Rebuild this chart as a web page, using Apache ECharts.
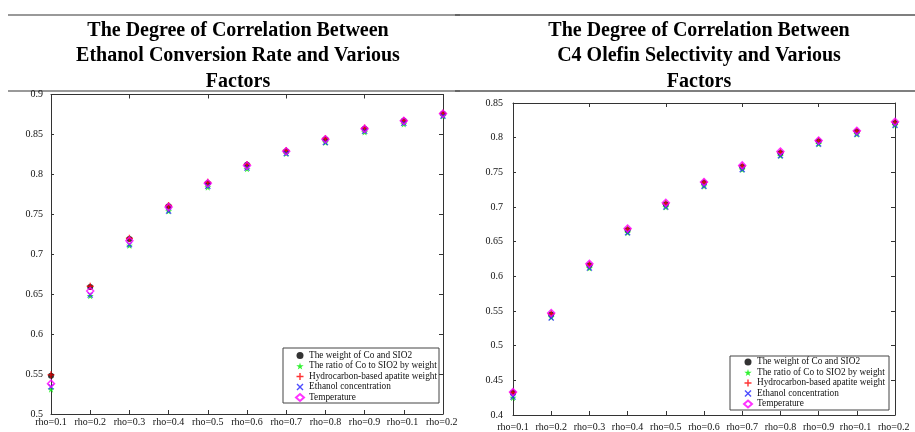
<!DOCTYPE html>
<html>
<head>
<meta charset="utf-8">
<script src="https://cdn.jsdelivr.net/npm/echarts@6/dist/echarts.min.js"></script>
<style>
html,body{margin:0;padding:0;background:#fff;}
#c{width:915px;height:432px;}
</style>
</head>
<body>
<div id="c"></div>
<script>
// ---- data ----
const categories = ['rho=0.1','rho=0.2','rho=0.3','rho=0.4','rho=0.5','rho=0.6','rho=0.7','rho=0.8','rho=0.9','rho=0.1 ','rho=0.2 '];
const seriesNames = ['The weight of Co and SIO2','The ratio of Co to SIO2 by weight','Hydrocarbon-based apatite weight','Ethanol concentration','Temperature'];

const titleLeft = 'The Degree of Correlation Between\nEthanol Conversion Rate and Various\nFactors';
const titleRight = 'The Degree of Correlation Between\nC4 Olefin Selectivity and Various\nFactors';

// left chart: ethanol conversion rate
const ethWeightCoSiO2 = [0.548,0.659,0.719,0.760,0.789,0.812,0.829,0.844,0.857,0.867,0.876];
const ethRatioCoSiO2  = [0.531,0.648,0.711,0.754,0.784,0.807,0.826,0.840,0.853,0.863,0.873];
const ethHydrocarbon  = [0.549,0.660,0.720,0.761,0.790,0.8125,0.830,0.845,0.858,0.8675,0.8766];
const ethEthanolConc  = [0.534,0.649,0.712,0.754,0.785,0.808,0.826,0.840,0.854,0.864,0.873];
const ethTemperature  = [0.538,0.654,0.717,0.759,0.789,0.811,0.829,0.844,0.857,0.867,0.876];

// right chart: C4 olefin selectivity
const c4WeightCoSiO2 = [0.432,0.545,0.616,0.667,0.704,0.735,0.758,0.778,0.795,0.809,0.821];
const c4RatioCoSiO2  = [0.425,0.541,0.612,0.663,0.700,0.730,0.754,0.774,0.791,0.805,0.818];
const c4Hydrocarbon  = [0.4325,0.546,0.617,0.668,0.705,0.7357,0.759,0.779,0.7954,0.8093,0.822];
const c4EthanolConc  = [0.426,0.540,0.612,0.663,0.700,0.730,0.754,0.774,0.791,0.805,0.818];
const c4Temperature  = [0.433,0.547,0.618,0.669,0.706,0.736,0.760,0.780,0.796,0.810,0.823];

const leftY = {min:0.5, max:0.9, interval:0.05};
const rightY = {min:0.4, max:0.85, interval:0.05};

// ---- styling ----
const FONT = 'Liberation Serif';
const AX = '#333';
const starPath = 'path://M50,0L61,35L98,35L68,57L79,91L50,70L21,91L32,57L2,35L39,35Z';
const plusPath = 'path://M40,0H60V40H100V60H60V100H40V60H0V40H40Z';
const xPath = 'path://M14,0L50,36L86,0L100,14L64,50L100,86L86,100L50,64L14,100L0,86L36,50L0,14Z';

const markers = [
  {symbol:'circle', size:6, itemStyle:{color:'#000'}},
  {symbol:starPath, size:7, itemStyle:{color:'#00ee00'}},
  {symbol:plusPath, size:7, itemStyle:{color:'#ff0000'}},
  {symbol:xPath, size:6, itemStyle:{color:'#2020ff'}},
  {symbol:'diamond', size:7, itemStyle:{color:'rgba(0,0,0,0)', borderColor:'#ff00ff', borderWidth:1.5}}
];

const leftData = [ethWeightCoSiO2, ethRatioCoSiO2, ethHydrocarbon, ethEthanolConc, ethTemperature];
const rightData = [c4WeightCoSiO2, c4RatioCoSiO2, c4Hydrocarbon, c4EthanolConc, c4Temperature];

function mkSeries(dataSets, axisIdx){
  return dataSets.map((d,i)=>({
    type:'scatter',
    name: seriesNames[i],
    xAxisIndex: axisIdx, yAxisIndex: axisIdx,
    symbol: markers[i].symbol,
    symbolSize: markers[i].size,
    itemStyle: markers[i].itemStyle,
    data: d,
    z: 2+i,
    emphasis:{disabled:true}
  }));
}

function xAxes(gridIndex, labelMargin){
  return [
    {type:'category', gridIndex, data:categories, boundaryGap:false, position:'bottom',
     axisLine:{lineStyle:{color:AX, width:1}},
     axisTick:{inside:true, length:4, lineStyle:{color:AX}},
     axisLabel:{color:'#111', fontFamily:FONT, fontSize:10, margin:labelMargin, interval:0},
     splitLine:{show:false}},
    {type:'category', gridIndex, data:categories, boundaryGap:false, position:'top',
     axisLine:{lineStyle:{color:AX, width:1}},
     axisTick:{inside:true, length:4, lineStyle:{color:AX}},
     axisLabel:{show:false}, splitLine:{show:false}}
  ];
}
function yAxes(gridIndex, rng, labelMargin){
  return [
    {type:'value', gridIndex, min:rng.min, max:rng.max, interval:rng.interval, position:'left',
     axisLine:{show:true, lineStyle:{color:AX, width:1}},
     axisTick:{show:true, inside:true, length:3, lineStyle:{color:AX}},
     axisLabel:{color:'#111', fontFamily:FONT, fontSize:10, margin:labelMargin},
     splitLine:{show:false}},
    {type:'value', gridIndex, min:rng.min, max:rng.max, interval:rng.interval, position:'right',
     axisLine:{show:true, lineStyle:{color:AX, width:1}},
     axisTick:{show:true, inside:true, length:4, lineStyle:{color:AX}},
     axisLabel:{show:false}, splitLine:{show:false}}
  ];
}

const chart = echarts.init(document.getElementById('c'), null, {renderer:'canvas'});

const legendCommon = {
  orient:'vertical',
  data: seriesNames,
  itemWidth:8, itemHeight:7, itemGap:1.5,
  padding:0,
  z:30,
  textStyle:{fontFamily:FONT, fontSize:9.3, color:'#111', lineHeight:9},
  selectedMode:false
};

const option = {
  animation:false,
  backgroundColor:'#fff',
  grid:[
    {left:51, right:472, top:94.5, bottom:18},
    {left:513, right:18, top:103, bottom:15}
  ],
  xAxis:[...xAxes(0,3), ...xAxes(1,7)],
  yAxis:[...yAxes(0,leftY,8), ...yAxes(1,rightY,10)],
  legend:[
    Object.assign({}, legendCommon, {left:295, top:351}),
    Object.assign({}, legendCommon, {left:743, top:357.5})
  ],
  series:[
    ...mkSeries(leftData, 0),
    ...mkSeries(rightData, 1).map(s=>Object.assign(s,{xAxisIndex:2, yAxisIndex:2}))
  ],
  graphic:[
    {type:'line', shape:{x1:8,y1:15,x2:460,y2:15}, style:{stroke:'#777', lineWidth:1.5}},
    {type:'line', shape:{x1:8,y1:91,x2:460,y2:91}, style:{stroke:'#777', lineWidth:1.5}},
    {type:'line', shape:{x1:455,y1:15,x2:915,y2:15}, style:{stroke:'#555', lineWidth:1.5}},
    {type:'line', shape:{x1:455,y1:91,x2:915,y2:91}, style:{stroke:'#555', lineWidth:1.5}},
    {type:'rect', shape:{x:283,y:348,width:156,height:55}, style:{fill:'#fff', stroke:'#444', lineWidth:1}, z:20},
    {type:'rect', shape:{x:730,y:356,width:159,height:54}, style:{fill:'#fff', stroke:'#444', lineWidth:1}, z:20},
    {type:'text', x:238, y:18, style:{text:titleLeft, font:'bold 20px "Liberation Serif"', fill:'#000', align:'center', verticalAlign:'top', lineHeight:25.5}},
    {type:'text', x:699, y:18, style:{text:titleRight, font:'bold 20px "Liberation Serif"', fill:'#000', align:'center', verticalAlign:'top', lineHeight:25.5}}
  ]
};
chart.setOption(option);
</script>
</body>
</html>
